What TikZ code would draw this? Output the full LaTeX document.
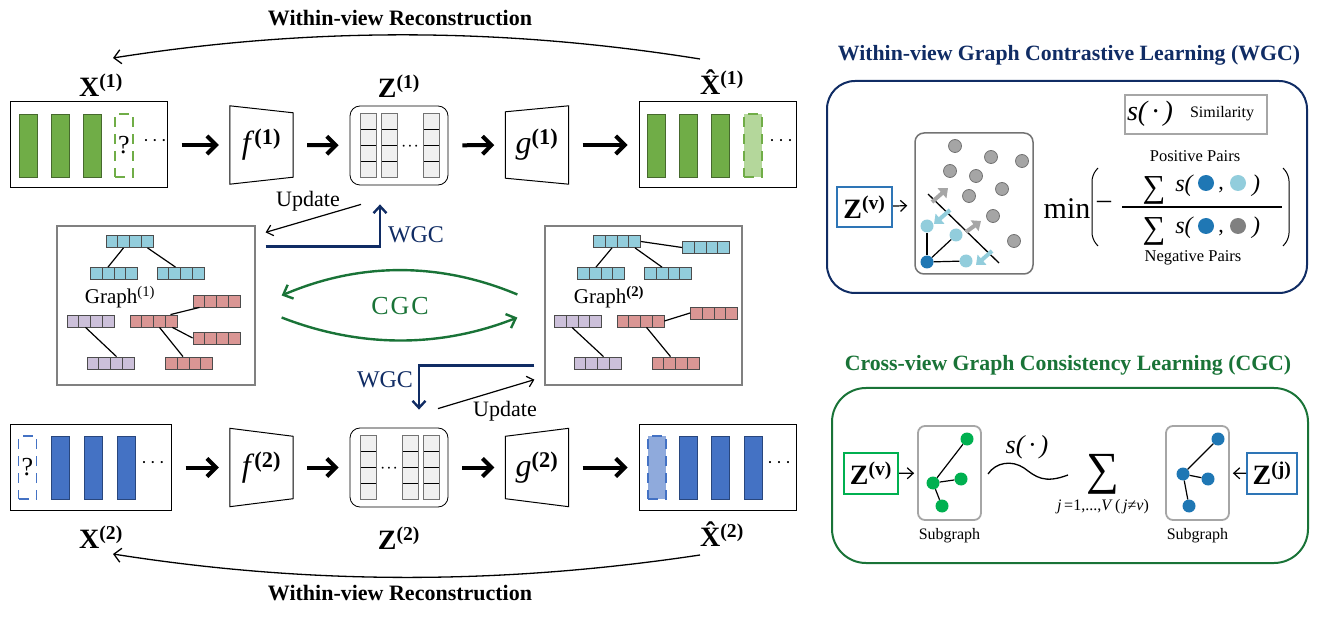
\documentclass[tikz,border=0pt]{standalone}
\usepackage{fontspec}
\setmainfont{Liberation Serif}
\usetikzlibrary{arrows.meta,positioning}
\newcommand{\fsz}[1]{\fontsize{#1}{#1}\selectfont}
\definecolor{barG}{RGB}{112,173,71}
\definecolor{barGd}{RGB}{70,105,45}
\definecolor{barGl}{RGB}{180,215,155}
\definecolor{barB}{RGB}{68,114,196}
\definecolor{barBd}{RGB}{40,70,125}
\definecolor{barBl}{RGB}{143,170,220}
\definecolor{cellC}{RGB}{146,205,220}
\definecolor{cellR}{RGB}{218,150,148}
\definecolor{cellP}{RGB}{204,192,218}
\definecolor{navy}{RGB}{16,44,100}
\definecolor{cgcG}{RGB}{25,115,55}
\definecolor{zBlue}{RGB}{46,117,182}
\definecolor{zGreen}{RGB}{0,176,80}
\definecolor{dotB}{RGB}{31,119,180}
\definecolor{dotL}{RGB}{146,205,220}
\definecolor{dotG}{RGB}{165,165,165}

\begin{document}
\begin{tikzpicture}[x=1pt, y=-1pt,
    view/.style={draw, line width=1pt, minimum width=157, minimum height=86, inner sep=0},
    barg/.style={draw=barGd, fill=barG, line width=0.8pt, minimum width=18, minimum height=63, inner sep=0},
    barb/.style={barg, draw=barBd, fill=barB},
    missg/.style={barg, draw=barG, fill=none, dash pattern=on 10pt off 7pt, line width=1.6pt, font=\fsz{26}},
    missb/.style={missg, draw=barB},
    fillg/.style={missg, fill=barGl},
    fillb/.style={missg, draw=barB, fill=barBl},
    enc/.style={minimum width=63, minimum height=78, inner sep=0, font=\fsz{32}},
    zbox/.style={draw, rounded corners=10pt, line width=0.8pt, minimum width=98, minimum height=79, inner sep=0},
    zcol/.style={draw=black!55, fill=black!6, line width=0.8pt, minimum width=16, minimum height=64, inner sep=0,
        path picture={\foreach \k in {1,2,3} \draw[black, line width=0.8pt] ([yshift=\k*16pt]path picture bounding box.south west) -- ([yshift=\k*16pt]path picture bounding box.south east);}},
    feat/.style={draw=black!70, line width=0.8pt, minimum width=47, minimum height=12, inner sep=0,
        path picture={\foreach \k in {1,2,3} \draw[black!70, line width=0.8pt] ([xshift=\k*11.75pt]path picture bounding box.south west) -- ([xshift=\k*11.75pt]path picture bounding box.north west);}},
    cy/.style={feat, fill=cellC},
    rd/.style={feat, fill=cellR},
    pu/.style={feat, fill=cellP},
    gbox/.style={draw=black!50, line width=1.3pt, minimum width=198, minimum height=159, inner sep=0},
    link/.style={line width=1.2pt},
    flow/.style={-{Straight Barb[length=9pt, width=18pt]}, line width=4pt, shorten <=14pt, shorten >=11pt},
    recon/.style={-{Straight Barb[length=7pt, width=14pt]}, line width=1.3pt},
    upd/.style={-{Straight Barb[length=6pt, width=11pt]}, line width=1.2pt},
    wgc/.style={-{Straight Barb[length=7pt, width=13pt]}, draw=navy, line width=2.4pt},
    cgc/.style={-{Straight Barb[length=8pt, width=15pt]}, draw=cgcG, line width=2.4pt},
    push/.style={-{Triangle[length=8pt, width=13pt]}, line width=4pt},
    vlab/.style={font=\fsz{28}\bfseries},
    lab/.style={font=\fsz{22}},
    wlab/.style={font=\fsz{24}, text=navy},
    panel/.style={rounded corners=28pt, line width=2pt, minimum width=480, minimum height=212},
    head/.style={font=\fsz{21.8}\bfseries},
    zin/.style={draw, line width=2pt, minimum width=55, minimum height=40, inner sep=0, font=\fsz{28}\bfseries},
    ball/.style={circle, fill=dotG, minimum size=13, inner sep=0},
    sub/.style={draw=black!35, rounded corners=7pt, line width=1.8pt, minimum width=63, minimum height=94},
    small/.style={font=\fsz{16}}
]
\useasboundingbox (0,0) rectangle (1317,617);
% ---------------- View 1 ----------------
\node[vlab] (xl1) at (101,85) {X\textsuperscript{(1)}};
\node[view] (xa) at (88.5,145) {};
\node[barg] (xa1) at (28,145.5) {};
\node[barg] (xa2) at (60,145.5) {};
\node[barg] (xa3) at (92,145.5) {};
\node[missg] (xa4) at (124,145.5) {?};
\node[font=\fsz{18}] (xa5) at (155,143) {·\kern3pt·\kern3pt·};
\node[enc] (fa) at (261.5,145) {\textit{f}\textsuperscript{\bfseries(1)}};
\draw[line width=1pt] (fa.north west) -- ([yshift=-7pt]fa.north east) -- ([yshift=7pt]fa.south east) -- (fa.south west) -- cycle;
\node[vlab] (zl1) at (399,86) {Z\textsuperscript{(1)}};
\node[zbox] (za) at (399,145.5) {};
\node[zcol] (za1) at (368,145) {};
\node[zcol] (za2) at (389,145) {};
\node[zcol] (za3) at (431,145) {};
\node[font=\fsz{16}] (za4) at (410,148) {·\kern1pt·\kern1pt·};
\node[enc] (ga) at (537,145) {\textit{g}\textsuperscript{\bfseries(1)}};
\draw[line width=1pt] (ga.north east) -- ([yshift=-6pt]ga.north west) -- ([yshift=6pt]ga.south west) -- (ga.south east) -- cycle;
\node[vlab] (xhl1) at (722,82) {\^{X}\textsuperscript{(1)}};
\node[view] (xha) at (717.5,145) {};
\node[barg] (xha1) at (656.5,145.5) {};
\node[barg] (xha2) at (688,145.5) {};
\node[barg] (xha3) at (720.5,145.5) {};
\node[fillg] (xha4) at (753,145.5) {};
\node[font=\fsz{18}] (xha5) at (781,143) {·\kern3pt·\kern3pt·};
\draw[flow] (xa) -- (fa);
\draw[flow] (fa) -- (za);
\draw[flow] (za) -- (ga);
\draw[flow] (ga) -- (xha);
\node[font=\fsz{22}\bfseries] (rt1) at (400,18) {Within-view Reconstruction};
\coordinate (r1s) at (700,59);
\coordinate (r1e) at (113,58);
\draw[recon] (r1s) .. controls (500,27) and (310,27) .. (r1e);
% ---------------- View 2 ----------------
\node[vlab] (xl2) at (101,537) {X\textsuperscript{(2)}};
\node[view, minimum width=161] (xb) at (90.5,467.5) {};
\node[missb] (xb1) at (27.5,467.5) {?};
\node[barb] (xb2) at (60,467.5) {};
\node[barb] (xb3) at (93,467.5) {};
\node[barb] (xb4) at (126,467.5) {};
\node[font=\fsz{18}] (xb5) at (153,465) {·\kern3pt·\kern3pt·};
\node[enc] (fb) at (261.5,467.5) {\textit{f}\textsuperscript{\bfseries(2)}};
\draw[line width=1pt] (fb.north west) -- ([yshift=-8pt]fb.north east) -- ([yshift=8pt]fb.south east) -- (fb.south west) -- cycle;
\node[vlab] (zl2) at (399,538) {Z\textsuperscript{(2)}};
\node[zbox] (zb) at (399,467.5) {};
\node[zcol] (zb1) at (368,467.5) {};
\node[zcol] (zb2) at (410,467.5) {};
\node[zcol] (zb3) at (431,467.5) {};
\node[font=\fsz{16}] (zb4) at (389,470) {·\kern1pt·\kern1pt·};
\node[enc] (gb) at (537,467.5) {\textit{g}\textsuperscript{\bfseries(2)}};
\draw[line width=1pt] (gb.north east) -- ([yshift=-8pt]gb.north west) -- ([yshift=8pt]gb.south west) -- (gb.south east) -- cycle;
\node[vlab] (xhl2) at (722,534) {\^{X}\textsuperscript{(2)}};
\node[view] (xhb) at (717.5,467.5) {};
\node[fillb] (xhb1) at (657,467.5) {};
\node[barb] (xhb2) at (688,467.5) {};
\node[barb] (xhb3) at (720.5,467.5) {};
\node[barb] (xhb4) at (753,467.5) {};
\node[font=\fsz{18}] (xhb5) at (779,465) {·\kern3pt·\kern3pt·};
\draw[flow] (xb) -- (fb);
\draw[flow] (fb) -- (zb);
\draw[flow] (zb) -- (gb);
\draw[flow] (gb) -- (xhb);
\node[font=\fsz{22}\bfseries] (rt2) at (400,593) {Within-view Reconstruction};
\coordinate (r2s) at (700,555);
\coordinate (r2e) at (113,554);
\draw[recon] (r2s) .. controls (500,585) and (310,585) .. (r2e);
% ---------------- Graph 1 ----------------
\node[gbox] (gra) at (156,305.5) {};
\node[cy] (pc1) at (129.5,241.5) {};
\node[cy] (pc2) at (114,273.5) {};
\node[cy] (pc3) at (180.5,273.5) {};
\node[font=\fsz{21}] (pl) at (120,297) {Graph\textsuperscript{(1)}};
\node[rd] (pr1) at (216.5,301) {};
\node[pu] (pp1) at (90.5,321) {};
\node[rd] (pr2) at (153.5,321) {};
\node[rd] (pr3) at (216.5,338) {};
\node[pu] (pp2) at (110.5,363) {};
\node[rd] (pr4) at (189,363) {};
\draw[link] ([xshift=-6pt]pc1.south) -- ([xshift=-6pt]pc2.north);
\draw[link] ([xshift=18pt]pc1.south) -- ([xshift=-5pt]pc3.north);
\draw[link] ([xshift=17pt]pr2.north) -- ([xshift=-17pt]pr1.south);
\draw[link] ([xshift=-5pt]pr2.south east) -- (pr3.west);
\draw[link] ([xshift=6pt]pr2.south) -- ([xshift=-6pt]pr4.north);
\draw[link] ([xshift=-5pt]pp1.south) -- ([xshift=6pt]pp2.north);
% ---------------- Graph 2 ----------------
\node[gbox, minimum width=197] (grb) at (643.5,305.5) {};
\node[cy] (qc1) at (617,241.5) {};
\node[cy] (qc4) at (706,247.5) {};
\node[cy] (qc2) at (601,273.5) {};
\node[cy] (qc3) at (668,273.5) {};
\node[font=\fsz{21}] (ql) at (609,297) {Graph\textsuperscript{\bfseries(2)}};
\node[pu] (qp1) at (578,321) {};
\node[rd] (qr2) at (640.5,321) {};
\node[rd] (qr1) at (714,313) {};
\node[pu] (qp2) at (597.5,363) {};
\node[rd] (qr4) at (675.5,363) {};
\draw[link] (qc1.east) -- (qc4.west);
\draw[link] ([xshift=-5pt]qc1.south) -- ([xshift=-5pt]qc2.north);
\draw[link] ([xshift=18pt]qc1.south) -- ([xshift=-6pt]qc3.north);
\draw[link] (qr2.east) -- (qr1.west);
\draw[link] ([xshift=6pt]qr2.south) -- ([xshift=-5pt]qr4.north);
\draw[link] ([xshift=-6pt]qp1.south) -- ([xshift=6pt]qp2.north);
% ---------------- Update / WGC / CGC ----------------
\draw[upd] ([xshift=-38pt, yshift=-19pt]za.south) -- ([xshift=10pt, yshift=-7pt]gra.north east);
\node[lab] (up1) at (308,201) {Update};
\draw[wgc] ([xshift=10pt, yshift=-21pt]gra.north east) -| ([xshift=-19pt, yshift=-19pt]za.south);
\node[wlab] (wg1) at (416,235) {WGC};
\draw[wgc] ([xshift=-10pt, yshift=20pt]grb.south west) -| ([xshift=20pt, yshift=18pt]zb.north);
\node[wlab] (wg2) at (385,380) {WGC};
\draw[upd] ([xshift=39pt, yshift=19pt]zb.north) -- ([xshift=-10pt, yshift=6pt]grb.south west);
\node[lab] (up2) at (505,411) {Update};
\draw[cgc] ([xshift=-27pt, yshift=11pt]grb.west) .. controls (440,262) and (360,262) .. ([xshift=26pt, yshift=10pt]gra.east);
\draw[cgc] ([xshift=26pt, yshift=-12pt]gra.east) .. controls (360,348) and (440,348) .. ([xshift=-27pt, yshift=-12pt]grb.west);
\node[font=\fsz{26}, text=cgcG] (cg) at (400,306) {C\kern2pt G\kern2pt C};
% ---------------- WGC panel ----------------
\node[head, text=navy] (wt) at (1069,55) {Within-view Graph Contrastive Learning (WGC)};
\node[panel, draw=navy] (wp) at (1067,187) {};
\node[zin, draw=zBlue] (zv) at (864.5,207) {Z\textsuperscript{(v)}};
\node[draw=black!55, rounded corners=9pt, line width=1.5pt, minimum width=118, minimum height=141] (sc) at (974,203.5) {};
\draw[upd, shorten >=7pt] (zv) -- (sc);
\node[ball, draw=black!55, line width=0.8pt] (nd1) at (955,146) {};
\node[ball, draw=black!55, line width=0.8pt] (nd2) at (991,157) {};
\node[ball, draw=black!55, line width=0.8pt] (nd3) at (1022,161) {};
\node[ball, draw=black!55, line width=0.8pt] (nd4) at (950,171) {};
\node[ball, draw=black!55, line width=0.8pt] (nd5) at (976,176) {};
\node[ball, draw=black!55, line width=0.8pt] (nd6) at (1002,189) {};
\node[ball, draw=black!55, line width=0.8pt] (nd7) at (969,196) {};
\node[ball, draw=black!55, line width=0.8pt] (nd8) at (993,216) {};
\node[ball, draw=black!55, line width=0.8pt] (nd9) at (1014,241) {};
\draw[line width=1.3pt] (928,194) -- (999,263);
\node[ball, fill=dotL] (pb1) at (927,226) {};
\node[ball, fill=dotL] (pb2) at (956,235) {};
\node[ball, fill=dotL] (pb3) at (966,261) {};
\node[ball, fill=dotB] (an) at (927,262) {};
\draw[link] (an) -- (pb1);
\draw[link] (an) -- (pb2);
\draw[link] (an) -- (pb3);
\draw[push, draw=black!35] (932,202) -- (948,188);
\draw[push, draw=black!35] (966,232) -- (981,221);
\draw[push, draw=dotL] (950,210) -- (934,224);
\draw[push, draw=dotL] (992,251) -- (976,265);
\node[draw=black!35, line width=1.5pt, minimum width=142, minimum height=39] (simb) at (1196,114.5) {};
\node[font=\fsz{28}\itshape] (sfn) at (1150,114) {s(\,·\,)};
\node[small] (simt) at (1222,114) {Similarity};
\node[font=\fsz{30}] (mn) at (1067,209) {min};
\draw[line width=1pt, rounded corners=6pt] (1098,168) -- (1092,175) -- (1092,239) -- (1098,246);
\draw[line width=1pt, rounded corners=6pt] (1283,168) -- (1289,175) -- (1289,239) -- (1283,246);
\node[font=\fsz{28}] (neg) at (1104,205) {–};
\draw[line width=1.2pt] (1122,207) -- (1282,207);
\node[font=\fsz{16.5}] (pos) at (1195,156) {Positive Pairs};
\node[font=\fsz{32}] (suma) at (1154,190) {∑};
\node[font=\fsz{24}\itshape] (sa) at (1184,186) {s(};
\node[ball, fill=dotB, minimum size=16] (da) at (1206,183) {};
\node[font=\fsz{22}] (ca) at (1221,190) {,};
\node[ball, fill=dotL, minimum size=16] (la) at (1238,183) {};
\node[font=\fsz{24}\itshape] (ea) at (1256,186) {)};
\node[font=\fsz{32}] (sumb) at (1154,231) {∑};
\node[font=\fsz{24}\itshape] (sb) at (1184,228) {s(};
\node[ball, fill=dotB, minimum size=16] (db) at (1206,226) {};
\node[font=\fsz{22}] (cb) at (1221,233) {,};
\node[ball, fill=black!50, minimum size=16] (lb) at (1238,226) {};
\node[font=\fsz{24}\itshape] (eb) at (1256,228) {)};
\node[font=\fsz{16.5}] (negp) at (1193,258) {Negative Pairs};
% ---------------- CGC panel ----------------
\node[head, text=cgcG] (ct) at (1068,365) {Cross-view Graph Consistency Learning (CGC)};
\node[panel, draw=cgcG, rounded corners=34pt, minimum width=476, minimum height=175] (cp) at (1070,475.5) {};
\node[zin, draw=zGreen, minimum width=54, minimum height=41] (zv2) at (871,473.5) {Z\textsuperscript{(v)}};
\node[sub] (sga) at (949.5,473) {};
\draw[upd, shorten >=3pt] (zv2) -- (sga);
\node[ball, fill=zGreen] (gv1) at (967,439) {};
\node[ball, fill=zGreen] (gv0) at (933,483) {};
\node[ball, fill=zGreen] (gv2) at (961,479) {};
\node[ball, fill=zGreen] (gv3) at (942,506) {};
\draw[link] (gv0) -- (gv1);
\draw[link] (gv0) -- (gv2);
\draw[link] (gv0) -- (gv3);
\node[small] (sla) at (949.5,536) {Subgraph};
\draw[line width=1.3pt] (988,474) .. controls (996,462) and (1012,460) .. (1024,468) .. controls (1036,477) and (1044,484) .. (1068,475);
\node[font=\fsz{26}\itshape] (sfc) at (1027,447) {s(\,·\,)};
\node[font=\fsz{46}] (sumc) at (1103,474) {∑};
\node[font=\fsz{16}] (idx) at (1103,507) {\textit{j}\,=1,...,\textit{V}\,(\,\textit{j}≠\textit{v})};
\node[sub] (sgb) at (1197.5,473) {};
\node[ball, fill=dotB] (bj1) at (1218,439) {};
\node[ball, fill=dotB] (bj0) at (1183,474) {};
\node[ball, fill=dotB] (bj2) at (1208,479) {};
\node[ball, fill=dotB] (bj3) at (1189,506) {};
\draw[link] (bj0) -- (bj1);
\draw[link] (bj0) -- (bj2);
\draw[link] (bj0) -- (bj3);
\node[small] (slb) at (1197.5,536) {Subgraph};
\node[zin, draw=zBlue, minimum width=50, minimum height=41] (zj) at (1272,473.5) {Z\textsuperscript{(j)}};
\draw[upd, shorten >=3pt] (zj) -- (sgb);
\end{tikzpicture}
\end{document}
